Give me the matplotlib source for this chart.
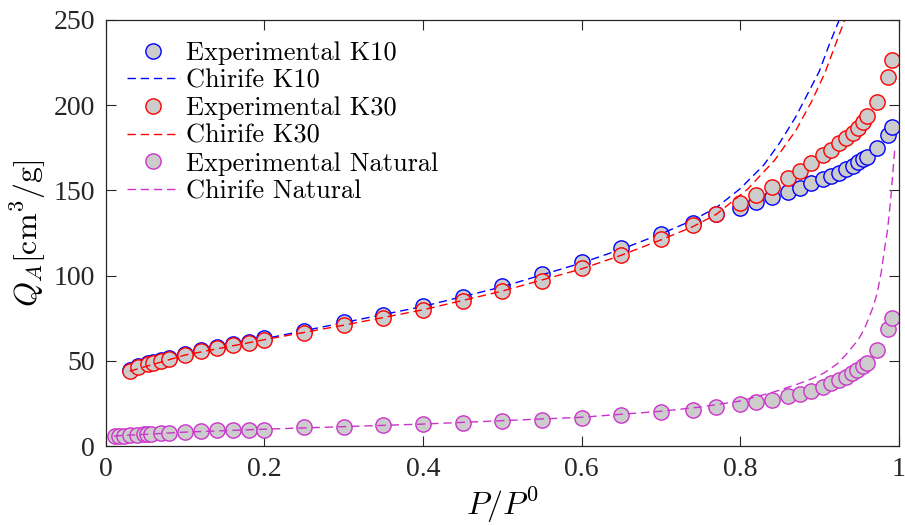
import numpy as np
import matplotlib.pyplot as plt

plt.rcParams['mathtext.fontset'] = 'cm'

# relative pressure of the experimental points
p_k = [0.03, 0.04, 0.053, 0.06, 0.07, 0.08, 0.10, 0.12, 0.14, 0.16, 0.18, 0.20,
       0.25, 0.30, 0.35, 0.40, 0.45, 0.50, 0.55, 0.60, 0.65, 0.70,
       0.74, 0.77, 0.80, 0.82, 0.84, 0.86, 0.875, 0.89, 0.905, 0.915,
       0.925, 0.934, 0.942, 0.949, 0.955, 0.96, 0.973, 0.987, 0.992]
q_k10 = [44.8, 47.0, 48.6, 49.4, 50.6, 51.9, 54.3, 56.2, 58.0, 59.8, 61.2, 63.2,
         67.3, 72.8, 77.2, 82.0, 87.8, 94.2, 101.2, 108.2, 116.0, 124.5,
         131.0, 136.0, 140.0, 143.4, 146.3, 149.2, 151.4, 154.2, 156.5, 158.5,
         160.5, 162.8, 164.5, 166.5, 168.3, 169.5, 174.7, 182.5, 187.0]
q_k30 = [44.2, 46.5, 48.1, 48.9, 50.1, 51.4, 53.8, 55.7, 57.5, 59.3, 60.6, 62.6,
         66.5, 71.2, 75.5, 79.8, 85.3, 91.0, 97.0, 104.3, 112.0, 121.3,
         129.5, 136.3, 142.8, 147.3, 152.2, 157.5, 161.5, 165.9, 170.7, 174.0,
         177.6, 180.8, 183.7, 186.8, 190.0, 193.5, 202.0, 216.5, 226.5]

p_nat = [0.011, 0.017, 0.023, 0.03, 0.039, 0.048, 0.052, 0.057, 0.069, 0.08,
         0.10, 0.12, 0.14, 0.16, 0.18, 0.20,
         0.25, 0.30, 0.35, 0.40, 0.45, 0.50, 0.55, 0.60, 0.65, 0.70,
         0.74, 0.77, 0.80, 0.82, 0.84, 0.86, 0.875, 0.89, 0.905, 0.915,
         0.925, 0.934, 0.941, 0.948, 0.955, 0.96, 0.973, 0.987, 0.992]
q_nat = [5.9, 6.1, 6.3, 6.6, 6.8, 7.0, 7.2, 7.2, 7.6, 8.0,
         8.4, 9.0, 9.4, 9.4, 9.8, 9.8,
         11.0, 11.3, 12.3, 13.3, 13.7, 14.8, 15.6, 16.8, 18.2, 20.1,
         21.5, 23.1, 24.6, 26.0, 27.4, 29.3, 30.9, 32.5, 34.8, 36.8,
         38.7, 40.7, 42.7, 44.6, 46.9, 48.9, 56.3, 69.0, 75.5]

# Chirife model curves
pc_k10 = [0.03, 0.1, 0.2, 0.3, 0.4, 0.5, 0.6, 0.65, 0.7, 0.74, 0.77, 0.80,
          0.83, 0.85, 0.87, 0.89, 0.90, 0.912, 0.925, 0.935]
qc_k10 = [44.5, 54.0, 63.0, 72.5, 82.0, 93.5, 107.5, 115.5, 124.5, 132.5, 140.0, 151.0,
          165.0, 178.0, 193.0, 211.0, 220.0, 235.0, 250.0, 263.0]
pc_k30 = [0.03, 0.1, 0.2, 0.3, 0.4, 0.5, 0.6, 0.65, 0.7, 0.74, 0.77, 0.81,
          0.844, 0.87, 0.89, 0.907, 0.919, 0.932, 0.94]
qc_k30 = [44.0, 53.5, 62.5, 71.0, 80.0, 91.0, 104.0, 112.0, 121.0, 128.7, 136.0, 151.0,
          168.0, 185.0, 202.0, 219.0, 234.0, 250.0, 262.0]
pc_nat = [0.01, 0.05, 0.1, 0.2, 0.3, 0.4, 0.5, 0.6, 0.7, 0.75, 0.8, 0.84, 0.87,
          0.89, 0.906, 0.923, 0.936, 0.949, 0.957, 0.963, 0.968, 0.973, 0.978,
          0.982, 0.986, 0.99, 0.995]
qc_nat = [6.0, 7.0, 8.3, 10.0, 11.5, 13.0, 15.0, 17.0, 20.5, 23.0, 26.5, 31.5, 36.0,
          39.5, 43.0, 48.5, 55.0, 62.5, 69.0, 76.0, 82.0, 90.0, 102.0,
          115.0, 127.0, 145.0, 174.0]

blue = (0, 0, 1)
red = (1, 0, 0)
mag = (0.8, 0.2, 0.8)
grey = (0.8, 0.8, 0.8)

fig = plt.figure(figsize=(9.05, 5.25), dpi=100)
ax = fig.add_axes([0.117, 0.150, 0.876, 0.812])

mk = dict(marker='o', linestyle='none', markersize=11, markerfacecolor=grey,
          markeredgewidth=1.0)
dash = dict(linestyle='--', dashes=(6, 3.5), linewidth=1.0)

ax.plot(p_k, q_k10, markeredgecolor=blue, label='Experimental K10', **mk)
ax.plot(pc_k10, qc_k10, color=blue, label='Chirife K10', **dash)
ax.plot(p_k, q_k30, markeredgecolor=red, label='Experimental K30', **mk)
ax.plot(pc_k30, qc_k30, color=red, label='Chirife K30', **dash)
ax.plot(p_nat, q_nat, markeredgecolor=mag, label='Experimental Natural', **mk)
ax.plot(pc_nat, qc_nat, color=mag, label='Chirife Natural', **dash)

ax.set_xlim(0, 1)
ax.set_ylim(0, 250)
ax.set_xticks([0, 0.2, 0.4, 0.6, 0.8, 1])
ax.set_xticklabels(['0', '0.2', '0.4', '0.6', '0.8', '1'])
ax.set_yticks([0, 50, 100, 150, 200, 250])

for lab in ax.get_xticklabels() + ax.get_yticklabels():
    lab.set_family('Liberation Serif')
    lab.set_fontsize(20)

ax.tick_params(direction='in', length=7, width=0.8, top=True, right=True,
               colors=(0.15, 0.15, 0.15), pad=8)
for s in ax.spines.values():
    s.set_color((0.15, 0.15, 0.15))
    s.set_linewidth(0.9)

ax.set_xlabel(r'$P/P^0$', fontsize=23, labelpad=2)
ax.set_ylabel(r'$Q_A[\mathrm{cm}^3/\mathrm{g}]$', fontsize=23, labelpad=4)

leg = ax.legend(loc='upper left', bbox_to_anchor=(0.0, 1.0), frameon=False,
                prop={'family': 'cmr10', 'size': 19}, handlelength=2.0,
                handletextpad=0.25, labelspacing=0.15, borderaxespad=0.5,
                borderpad=0.3)

fig.savefig('out.png', dpi=100)
